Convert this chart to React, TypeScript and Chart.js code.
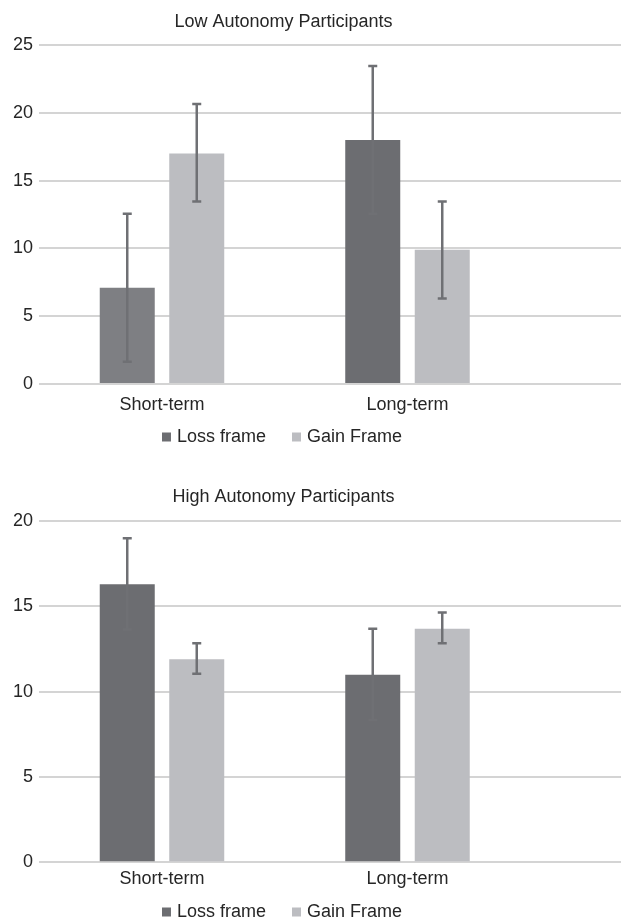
import React, { useEffect, useRef } from 'react';
import { Chart, registerables } from 'chart.js';

Chart.register(...registerables);

// ---- data ----
const categories = ['Short-term', 'Long-term'];
const seriesNames = ['Loss frame', 'Gain Frame'];

const lowTitle = 'Low Autonomy Participants';
const lowLoss = [7.1, 18.0];
const lowGain = [17.0, 9.9];
const lowLossLower = [1.65, 12.55];
const lowLossUpper = [12.55, 23.45];
const lowGainLower = [13.45, 6.3];
const lowGainUpper = [20.65, 13.45];
const lowYMax = 25;

const highTitle = 'High Autonomy Participants';
const highLoss = [16.3, 11.0];
const highGain = [11.9, 13.7];
const highLossLower = [13.65, 8.35];
const highLossUpper = [19.0, 13.7];
const highGainLower = [11.05, 12.85];
const highGainUpper = [12.85, 14.65];
const highYMax = 20;

const yStep = 5;

// ---- styles ----
const FONT = "'Liberation Sans', Arial, sans-serif";
const TEXT = '#262626';
const GRID = '#d4d4d4';
const LOSS = '#6c6d71';
const LOSS_LIGHT = '#7e7f83';
const GAIN = '#bcbdc1';
const ERR = '#6f7074';

type Props = {
  title: string;
  loss: number[];
  gain: number[];
  lossColors: string[];
  lossLower: number[];
  lossUpper: number[];
  gainLower: number[];
  gainUpper: number[];
  yMax: number;
  top: number;
  height: number;
  titlePadTop: number;
  titlePadBottom: number;
  xTickLength: number;
  xTickPadding: number;
};

const errorBarsPlugin = {
  id: 'errorBars',
  afterDatasetsDraw(chart: any) {
    const ctx = chart.ctx;
    const ys = chart.scales.y;
    chart.data.datasets.forEach((ds: any, i: number) => {
      const meta = chart.getDatasetMeta(i);
      meta.data.forEach((el: any, j: number) => {
        const x = el.x;
        const y1 = ys.getPixelForValue(ds.errUpper[j]);
        const y2 = ys.getPixelForValue(ds.errLower[j]);
        ctx.save();
        ctx.strokeStyle = ERR;
        ctx.lineWidth = 2.5;
        ctx.beginPath();
        ctx.moveTo(x, y1);
        ctx.lineTo(x, y2);
        ctx.stroke();
        ctx.beginPath();
        ctx.moveTo(x - 4.5, y1);
        ctx.lineTo(x + 4.5, y1);
        ctx.moveTo(x - 4.5, y2);
        ctx.lineTo(x + 4.5, y2);
        ctx.stroke();
        ctx.restore();
      });
    });
  },
};

const gridExtendPlugin = {
  id: 'gridExtend',
  beforeDatasetsDraw(chart: any) {
    const { ctx, chartArea } = chart;
    const ys = chart.scales.y;
    ctx.save();
    ctx.strokeStyle = GRID;
    ctx.lineWidth = 2;
    ys.ticks.forEach((t: any) => {
      const py = Math.round(ys.getPixelForValue(t.value) - 1) + 1;
      ctx.beginPath();
      ctx.moveTo(chartArea.right - 1, py);
      ctx.lineTo(chart.width, py);
      ctx.stroke();
    });
    ctx.restore();
  },
};

function BarPanel(p: Props) {
  const ref = useRef<HTMLCanvasElement>(null);
  useEffect(() => {
    if (!ref.current) return;
    const legendColors = [LOSS, GAIN];
    const font = { family: FONT, size: 18, weight: 'normal' as const };
    const chart = new Chart(ref.current, {
      type: 'bar',
      data: {
        datasets: [
          {
            label: seriesNames[0],
            data: p.loss.map((v, i) => ({ x: i, y: v })),
            backgroundColor: p.lossColors,
            borderWidth: 0,
            categoryPercentage: 0.5662,
            barPercentage: 0.7914,
            errLower: p.lossLower,
            errUpper: p.lossUpper,
          } as any,
          {
            label: seriesNames[1],
            data: p.gain.map((v, i) => ({ x: i, y: v })),
            backgroundColor: GAIN,
            borderWidth: 0,
            categoryPercentage: 0.5662,
            barPercentage: 0.7914,
            errLower: p.gainLower,
            errUpper: p.gainUpper,
          } as any,
        ],
      },
      options: {
        responsive: false,
        animation: false,
        layout: { padding: { left: 0, right: 54, top: 0, bottom: 0 } },
        scales: {
          x: {
            type: 'linear',
            min: -0.501,
            max: 1.6497,
            offset: false,
            grid: {
              display: true,
              color: 'rgba(0,0,0,0)',
              drawOnChartArea: false,
              drawTicks: true,
              tickLength: p.xTickLength,
            },
            border: { display: false },
            afterBuildTicks: (s: any) => {
              s.ticks = categories.map((_, i) => ({ value: i }));
            },
            ticks: {
              mirror: true,
              padding: p.xTickPadding,
              maxRotation: 0,
              minRotation: 0,
              autoSkip: false,
              color: TEXT,
              font,
              callback: (v: any) => categories[v] ?? '',
            },
          },
          y: {
            min: 0,
            max: p.yMax,
            grid: { color: GRID, lineWidth: 2, drawTicks: false },
            border: { display: false },
            ticks: { stepSize: yStep, padding: 6, color: TEXT, font },
            afterFit: (s: any) => {
              s.width = 39;
            },
          },
        },
        plugins: {
          title: {
            display: true,
            text: p.title,
            color: TEXT,
            font,
            padding: { top: p.titlePadTop, bottom: p.titlePadBottom },
          },
          legend: {
            position: 'bottom',
            labels: {
              usePointStyle: true,
              pointStyle: 'rect',
              boxWidth: 3,
              boxHeight: 9,
              padding: 29,
              color: TEXT,
              font,
              generateLabels: (c: any) =>
                Chart.defaults.plugins.legend.labels
                  .generateLabels(c)
                  .map((l: any, i: number) => ({
                    ...l,
                    fillStyle: legendColors[i],
                    strokeStyle: legendColors[i],
                    lineWidth: 0,
                  })),
            },
          },
          tooltip: { enabled: false },
        },
      } as any,
      plugins: [gridExtendPlugin, errorBarsPlugin],
    });
    return () => chart.destroy();
  }, []);
  return (
    <div style={{ position: 'absolute', left: 0, top: p.top, width: 621, height: p.height }}>
      <canvas ref={ref} width={621} height={p.height} style={{ display: 'block', width: 621, height: p.height }} />
    </div>
  );
}

export default function App() {
  return (
    <div
      style={{
        position: 'absolute',
        left: 0,
        top: 0,
        width: 621,
        height: 920,
        overflow: 'hidden',
        background: '#ffffff',
      }}
    >
      <BarPanel
        title={lowTitle}
        loss={lowLoss}
        gain={lowGain}
        lossColors={[LOSS_LIGHT, LOSS]}
        lossLower={lowLossLower}
        lossUpper={lowLossUpper}
        gainLower={lowGainLower}
        gainUpper={lowGainUpper}
        yMax={lowYMax}
        top={0}
        height={456}
        titlePadTop={11}
        titlePadBottom={12.4}
        xTickLength={78.2}
        xTickPadding={-31.6}
      />
      <BarPanel
        title={highTitle}
        loss={highLoss}
        gain={highGain}
        lossColors={[LOSS, LOSS]}
        lossLower={highLossLower}
        lossUpper={highLossUpper}
        gainLower={highGainLower}
        gainUpper={highGainUpper}
        yMax={highYMax}
        top={456}
        height={475}
        titlePadTop={29.9}
        titlePadBottom={13.7}
        xTickLength={66.9}
        xTickPadding={-27.6}
      />
    </div>
  );
}
